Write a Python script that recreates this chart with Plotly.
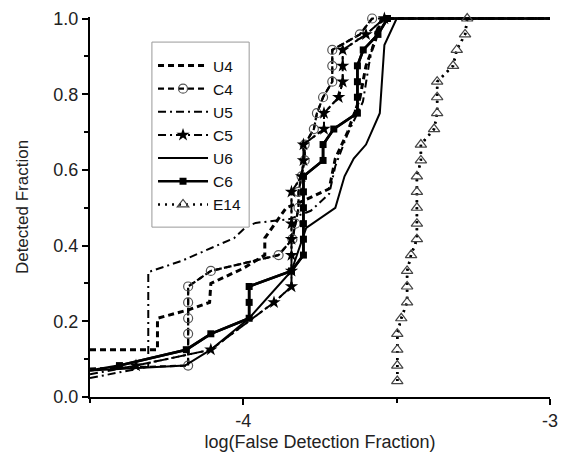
import plotly.graph_objects as go

# ---------------- data ----------------
u4_x = [-4.50, -4.28, -4.28, -4.18, -4.11, -4.106, -4.00, -3.93, -3.93, -3.89, -3.86, -3.80, -3.72, -3.70, -3.66, -3.62, -3.60, -3.57, -3.55, -3.00]
u4_y = [0.125, 0.125, 0.208, 0.230, 0.250, 0.300, 0.340, 0.375, 0.420, 0.466, 0.500, 0.520, 0.550, 0.630, 0.700, 0.790, 0.875, 0.940, 1.000, 1.000]

c4_x = [-4.18, -4.18, -4.18, -4.18, -4.18, -4.106, -3.885, -3.84, -3.83, -3.82, -3.82, -3.81, -3.80, -3.80, -3.77, -3.76, -3.74, -3.71, -3.71, -3.71, -3.62, -3.58]
c4_y = [0.083, 0.167, 0.208, 0.250, 0.292, 0.333, 0.375, 0.417, 0.458, 0.500, 0.542, 0.583, 0.625, 0.667, 0.708, 0.750, 0.792, 0.833, 0.875, 0.917, 0.958, 1.000]
c4_start = [-4.50, 0.075]

u5_x = [-4.50, -4.31, -4.31, -4.20, -4.03, -3.99, -3.96, -3.85, -3.78, -3.72, -3.70, -3.66, -3.61, -3.59, -3.57, -3.55, -3.00]
u5_y = [0.050, 0.080, 0.330, 0.360, 0.420, 0.450, 0.460, 0.470, 0.492, 0.537, 0.610, 0.695, 0.780, 0.880, 0.960, 1.000, 1.000]

c5_x = [-4.35, -4.106, -3.90, -3.843, -3.843, -3.843, -3.843, -3.843, -3.843, -3.81, -3.804, -3.804, -3.737, -3.737, -3.689, -3.676, -3.676, -3.676, -3.60, -3.54]
c5_y = [0.083, 0.125, 0.250, 0.292, 0.333, 0.375, 0.417, 0.458, 0.542, 0.583, 0.625, 0.667, 0.708, 0.750, 0.792, 0.833, 0.875, 0.917, 0.958, 1.000]
c5_start = [-4.50, 0.060]

u6_x = [-4.50, -4.19, -4.106, -3.981, -3.843, -3.795, -3.70, -3.67, -3.64, -3.60, -3.555, -3.54, -3.50, -3.00]
u6_y = [0.070, 0.083, 0.125, 0.208, 0.333, 0.447, 0.500, 0.583, 0.630, 0.667, 0.750, 0.930, 1.000, 1.000]

c6_x = [-4.404, -4.186, -4.106, -3.981, -3.981, -3.981, -3.843, -3.804, -3.804, -3.804, -3.804, -3.804, -3.804, -3.74, -3.74, -3.705, -3.628, -3.628, -3.628, -3.628, -3.609, -3.561, -3.53]
c6_y = [0.083, 0.125, 0.167, 0.208, 0.250, 0.292, 0.333, 0.375, 0.417, 0.458, 0.500, 0.542, 0.583, 0.625, 0.667, 0.708, 0.750, 0.792, 0.833, 0.875, 0.917, 0.958, 1.000]
c6_start = [-4.50, 0.070]

e14_x = [-3.498, -3.498, -3.498, -3.498, -3.485, -3.466, -3.466, -3.466, -3.453, -3.434, -3.434, -3.434, -3.434, -3.434, -3.421, -3.421, -3.378, -3.368, -3.368, -3.368, -3.316, -3.304, -3.277, -3.27]
e14_y = [0.042, 0.083, 0.125, 0.167, 0.208, 0.250, 0.292, 0.333, 0.375, 0.417, 0.458, 0.500, 0.542, 0.583, 0.625, 0.667, 0.708, 0.750, 0.792, 0.833, 0.875, 0.917, 0.958, 1.000]

x_end = -3.0
x_ticks = [-4, -3]
x_tick_text = ["-4", "-3"]
y_ticks = [0.0, 0.2, 0.4, 0.6, 0.8, 1.0]
y_tick_text = ["0.0", "0.2", "0.4", "0.6", "0.8", "1.0"]

FONT = "Liberation Sans, Arial, sans-serif"
fig = go.Figure()


def add_line_only(name, xs, ys, dash, width):
    fig.add_trace(go.Scatter(x=xs, y=ys, mode="lines", name=name,
                             line=dict(color="black", width=width, dash=dash)))


def add_marked(name, xs, ys, dash, width, marker, start=None, end=True):
    px, py = list(xs), list(ys)
    if start is not None:
        px = [start[0]] + px
        py = [start[1]] + py
    if end:
        px = px + [x_end]
        py = py + [py[-1]]
    fig.add_trace(go.Scatter(x=px, y=py, mode="lines", showlegend=False,
                             legendgroup=name, hoverinfo="skip",
                             line=dict(color="black", width=width, dash=dash)))
    fig.add_trace(go.Scatter(x=xs, y=ys, mode="lines+markers", name=name,
                             legendgroup=name, cliponaxis=False,
                             line=dict(color="black", width=width, dash=dash),
                             marker=marker))


add_line_only("U4", u4_x, u4_y, "6px,4px", 3)
add_marked("C4", c4_x, c4_y, "6px,4px", 2.2,
           dict(symbol="circle-open", size=9, color="#555555", line=dict(width=1.2)),
           start=c4_start)
add_line_only("U5", u5_x, u5_y, "8px,4px,2px,4px", 2)
add_marked("C5", c5_x, c5_y, "8px,4px,2px,4px", 2,
           dict(symbol="star", size=10, color="black"), start=c5_start)
add_line_only("U6", u6_x, u6_y, "solid", 2)
add_marked("C6", c6_x, c6_y, "solid", 2.6,
           dict(symbol="square", size=7, color="black"), start=c6_start)
add_marked("E14", e14_x, e14_y, "2px,5px", 2.5,
           dict(symbol="triangle-up-open", size=10, color="#444444", line=dict(width=1.2)))

# opaque legend frame (drawn above the curves, below the legend itself)
fig.add_shape(type="rect", xref="paper", yref="paper",
              x0=0.1346, x1=0.346, y0=0.447, y1=0.934,
              fillcolor="white", line=dict(color="#999999", width=1), layer="above")

fig.update_layout(
    width=566, height=461,
    margin=dict(l=90, r=8, t=17, b=64),
    paper_bgcolor="white", plot_bgcolor="white",
    font=dict(family=FONT, color="#222222", size=18),
    legend=dict(x=0.137, y=0.916, xanchor="left", yanchor="top",
                bgcolor="rgba(0,0,0,0)", borderwidth=0, itemwidth=50,
                font=dict(size=15.5, family=FONT, color="#111111"),
                tracegroupgap=0),
    showlegend=True,
)
fig.update_xaxes(range=[-4.5, -3.0], showline=True, linewidth=2, linecolor="black",
                 ticks="outside", ticklen=6, tickwidth=2, tickcolor="black",
                 tickvals=x_ticks, ticktext=x_tick_text, ticklabeloverflow="allow",
                 minor=dict(dtick=0.5, ticks="outside", ticklen=4, tickwidth=2, tickcolor="black"),
                 showgrid=False, zeroline=False,
                 title=dict(text="log(False Detection Fraction)", font=dict(size=18), standoff=6),
                 tickfont=dict(size=18))
fig.update_yaxes(range=[0, 1.004], showline=True, linewidth=2, linecolor="black",
                 ticks="outside", ticklen=6, tickwidth=2, tickcolor="black",
                 tickvals=y_ticks, ticktext=y_tick_text,
                 minor=dict(dtick=0.1, ticks="outside", ticklen=4, tickwidth=2, tickcolor="black"),
                 showgrid=False, zeroline=False,
                 title=dict(text="Detected Fraction", font=dict(size=17), standoff=20),
                 tickfont=dict(size=18))

fig.write_html("out.html", config={"displayModeBar": False},
               post_script="document.body.style.margin='0px';")
